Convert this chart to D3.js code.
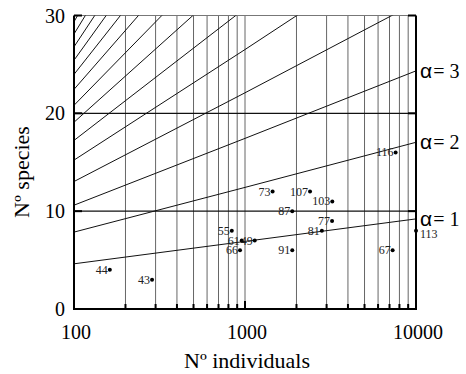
<!DOCTYPE html>
<html><head><meta charset="utf-8">
<script src="https://cdn.jsdelivr.net/npm/d3@7"></script>
<style>body{margin:0;background:#fff}svg{display:block}</style>
</head><body>
<svg id="c" width="466" height="374"></svg>
<script>
// Sample points: label, N individuals, N species
const pointLabels = ["44","43","55","61","66","49","73","107","103","87","77","81","91","67","113","116"];
const pointN      = [162, 286, 837, 957, 935, 1140, 1450, 2400, 3240, 1890, 3230, 2815, 1890, 7300, 10000, 7600];
const pointS      = [4, 3, 8, 7, 6, 7, 12, 12, 11, 10, 9, 8, 6, 6, 8, 16];

// Fisher's alpha isolines: species at N = 100, 1000, 10000
const isoN      = [100, 1000, 10000];
const isoAlpha  = [1,2,3,4,5,6,7,8,9,10,11,12,13,14];
const isoS = [
  [4.62, 6.91, 9.21],
  [7.86, 12.43, 17.04],
  [10.61, 17.44, 24.34],
  [13.03, 22.10, 31.30],
  [15.22, 26.52, 38.01],
  [17.23, 30.73, 44.51],
  [19.09, 34.78, 50.86],
  [20.82, 38.69, 57.06],
  [22.45, 42.48, 63.13],
  [23.98, 46.15, 69.09],
  [25.43, 49.73, 74.95],
  [26.80, 53.22, 80.72],
  [28.11, 56.62, 86.41],
  [29.36, 59.96, 92.02]
];
const alphaLabels = ["α","α","α"];
const alphaValues = [3, 2, 1];
const alphaLabelS = [24.34, 17.04, 9.21];

const xTicks = [100, 1000, 10000];
const yTicks = [0, 10, 20, 30];

const svg = d3.select("#c");
const L = 74, R = 416, T = 15.5, B = 309;
const x = d3.scaleLog().domain([100, 10000]).range([L, R]);
const y = d3.scaleLinear().domain([0, 30]).range([B, T]);
const serif = "'Liberation Serif','Times New Roman',serif";

svg.append("defs").append("clipPath").attr("id","clip")
  .append("rect").attr("x",L).attr("y",T).attr("width",R-L).attr("height",B-T);

// vertical grid lines
const minor = [];
for (let d of [100, 1000]) for (let k = 2; k <= 9; k++) minor.push(d*k);
svg.append("g").selectAll("line").data(minor.concat([1000])).join("line")
  .attr("x1", d => x(d)).attr("x2", d => x(d)).attr("y1", T).attr("y2", B)
  .attr("stroke", "#666").attr("stroke-width", 1);

// horizontal grid
svg.append("g").selectAll("line").data([10, 20]).join("line")
  .attr("x1", L).attr("x2", R).attr("y1", d => y(d)).attr("y2", d => y(d))
  .attr("stroke", "#111").attr("stroke-width", 1.2);
svg.append("line").attr("x1", L).attr("x2", R).attr("y1", T).attr("y2", T)
  .attr("stroke", "#777").attr("stroke-width", 1);

// isolines
const line = d3.line().x(d => x(d[0])).y(d => y(d[1]));
svg.append("g").attr("clip-path","url(#clip)").selectAll("path").data(isoS).join("path")
  .attr("d", s => line(isoN.map((n,i) => [n, s[i]])))
  .attr("fill","none").attr("stroke","#111").attr("stroke-width",1);

// ticks
const bt = svg.append("g");
bt.selectAll("line.mi").data(minor).join("line")
  .attr("x1", d => x(d)).attr("x2", d => x(d)).attr("y1", B).attr("y2", B-5)
  .attr("stroke","#000").attr("stroke-width",2);
bt.selectAll("line.ma").data(xTicks).join("line")
  .attr("x1", d => x(d)).attr("x2", d => x(d)).attr("y1", B).attr("y2", B-8)
  .attr("stroke","#000").attr("stroke-width",2);
svg.append("g").selectAll("line").data(yTicks).join("line")
  .attr("x1", L).attr("x2", L+8).attr("y1", d => y(d)).attr("y2", d => y(d))
  .attr("stroke","#000").attr("stroke-width",2);
svg.append("g").selectAll("line").data(yTicks).join("line")
  .attr("x1", R).attr("x2", R-8).attr("y1", d => y(d)).attr("y2", d => y(d))
  .attr("stroke","#000").attr("stroke-width",2);

// axes frame
svg.append("path").attr("d", `M${L},${T}V${B}H${R}V${T}`)
  .attr("fill","none").attr("stroke","#000").attr("stroke-width",2);

// tick labels
svg.append("g").selectAll("text").data(yTicks).join("text")
  .attr("x", 65).attr("y", d => y(d)).attr("dy","0.35em")
  .attr("text-anchor","end").attr("font-family",serif).attr("font-size",20)
  .text(d => d);
svg.append("g").selectAll("text").data(xTicks).join("text")
  .attr("x", d => x(d) + 2).attr("y", 339)
  .attr("text-anchor","middle").attr("font-family",serif).attr("font-size",20)
  .text(d => d);

// axis titles
svg.append("text").attr("x", 247).attr("y", 368).attr("text-anchor","middle")
  .attr("font-family",serif).attr("font-size",22).text("Nº individuals");
svg.append("text").attr("transform","translate(29,172) rotate(-90)").attr("text-anchor","middle")
  .attr("font-family",serif).attr("font-size",22).text("Nº species");

// alpha labels
const al = svg.append("g").selectAll("text").data(alphaValues).join("text")
  .attr("x", 420).attr("y", (d,i) => y(alphaLabelS[i]) + 7)
  .attr("font-size", 20);
al.append("tspan").attr("font-family","'Liberation Sans',Arial,sans-serif").attr("font-size",21).text((d,i) => alphaLabels[i]);
al.append("tspan").attr("font-family",serif).attr("dx",1).text(d => "= " + d);

// points
const pg = svg.append("g");
pg.selectAll("circle").data(pointN).join("circle")
  .attr("cx", d => x(d)).attr("cy", (d,i) => y(pointS[i])).attr("r", 2).attr("fill","#000");
pg.selectAll("text").data(pointLabels).join("text")
  .attr("x", (d,i) => d === "113" ? x(pointN[i]) + 4 : x(pointN[i]) - 2)
  .attr("y", (d,i) => y(pointS[i]) + (d === "113" ? 7 : 4))
  .attr("text-anchor", d => d === "113" ? "start" : "end")
  .attr("font-family",serif).attr("font-size",12).attr("fill","#222")
  .text(d => d);
</script>
</body></html>
